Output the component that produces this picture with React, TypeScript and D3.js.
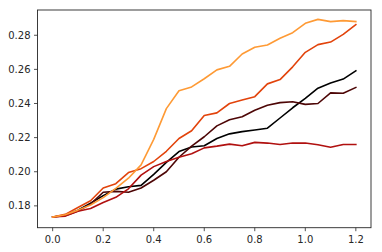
import React from 'react';
import * as d3 from 'd3';

// x positions shared by every series
const xs = [0, 0.05, 0.1, 0.15, 0.2, 0.25, 0.3, 0.35, 0.4, 0.45, 0.5, 0.55, 0.6,
  0.65, 0.7, 0.75, 0.8, 0.85, 0.9, 0.95, 1.0, 1.05, 1.1, 1.15, 1.2];

const blackSeries = [0.1735, 0.1745, 0.1775, 0.1815, 0.186, 0.1898, 0.1912, 0.192, 0.1985,
  0.2055, 0.2118, 0.2145, 0.2152, 0.2195, 0.2222, 0.2235, 0.2245, 0.2255, 0.2315, 0.2375,
  0.243, 0.249, 0.252, 0.2543, 0.2592];
const maroonSeries = [0.1735, 0.1742, 0.177, 0.181, 0.188, 0.1885, 0.188, 0.1905, 0.195,
  0.2, 0.2085, 0.215, 0.2205, 0.2269, 0.2305, 0.2322, 0.236, 0.239, 0.2405, 0.241, 0.2395,
  0.24, 0.2462, 0.246, 0.2494];
const crimsonSeries = [0.1735, 0.174, 0.1768, 0.1785, 0.182, 0.185, 0.19, 0.198, 0.203,
  0.206, 0.2085, 0.2105, 0.214, 0.215, 0.2162, 0.2152, 0.2172, 0.2168, 0.216, 0.2168,
  0.2168, 0.2158, 0.2144, 0.216, 0.216];
const redOrangeSeries = [0.1735, 0.175, 0.179, 0.183, 0.1905, 0.193, 0.1995, 0.2018, 0.206,
  0.212, 0.2195, 0.224, 0.233, 0.2345, 0.24, 0.242, 0.244, 0.2515, 0.254, 0.2615, 0.27,
  0.2745, 0.276, 0.2805, 0.2862];
const orangeSeries = [0.1735, 0.1748, 0.1775, 0.1805, 0.1848, 0.1902, 0.1962, 0.204, 0.219,
  0.237, 0.2475, 0.2497, 0.2545, 0.2597, 0.2618, 0.269, 0.273, 0.2743, 0.2782, 0.2815,
  0.287, 0.2893, 0.288, 0.2886, 0.288];

const xTicks = [0.0, 0.2, 0.4, 0.6, 0.8, 1.0, 1.2];
const yTicks = [0.18, 0.20, 0.22, 0.24, 0.26, 0.28];

const series = [
  { name: 'black', values: blackSeries, color: '#000000' },
  { name: 'maroon', values: maroonSeries, color: '#4d0606' },
  { name: 'crimson', values: crimsonSeries, color: '#b0100f' },
  { name: 'redOrange', values: redOrangeSeries, color: '#e2430b' },
  { name: 'orange', values: orangeSeries, color: '#fe9a35' },
];

export default function App() {
  const width = 382;
  const height = 252;
  const left = 37.5, right = 371, top = 10, bottom = 227.7;

  const x = d3.scaleLinear().domain([-0.06, 1.26]).range([left, right]);
  const y = d3.scaleLinear().domain([0.1672, 0.2948]).range([bottom, top]);

  const line = d3.line<number>()
    .x((_, i) => x(xs[i]))
    .y(d => y(d));

  const font = 'DejaVu Sans, sans-serif';

  return (
    <svg width={width} height={height}
      style={{ position: 'absolute', left: 0, top: 0, display: 'block', background: '#fff' }}>
      {/* lines */}
      {series.map(s => (
        <path key={s.name} d={line(s.values) || ''} fill="none" stroke={s.color}
          strokeWidth={1.6} strokeLinejoin="round" strokeLinecap="square" />
      ))}

      {/* spines */}
      <rect x={left} y={top} width={right - left} height={bottom - top}
        fill="none" stroke="#262626" strokeWidth={0.9} />

      {/* x axis */}
      {xTicks.map(t => (
        <g key={'x' + t}>
          <line x1={x(t)} x2={x(t)} y1={bottom} y2={bottom + 3.5} stroke="#262626" strokeWidth={0.8} />
          <text x={x(t)} y={243} textAnchor="middle" fontFamily={font} fontSize={10} fill="#262626">
            {t.toFixed(1)}
          </text>
        </g>
      ))}

      {/* y axis */}
      {yTicks.map(t => (
        <g key={'y' + t}>
          <line x1={left - 3.5} x2={left} y1={y(t)} y2={y(t)} stroke="#262626" strokeWidth={0.8} />
          <text x={left - 7} y={y(t)} dy="0.36em" textAnchor="end" fontFamily={font} fontSize={10} fill="#262626">
            {t.toFixed(2)}
          </text>
        </g>
      ))}
    </svg>
  );
}
